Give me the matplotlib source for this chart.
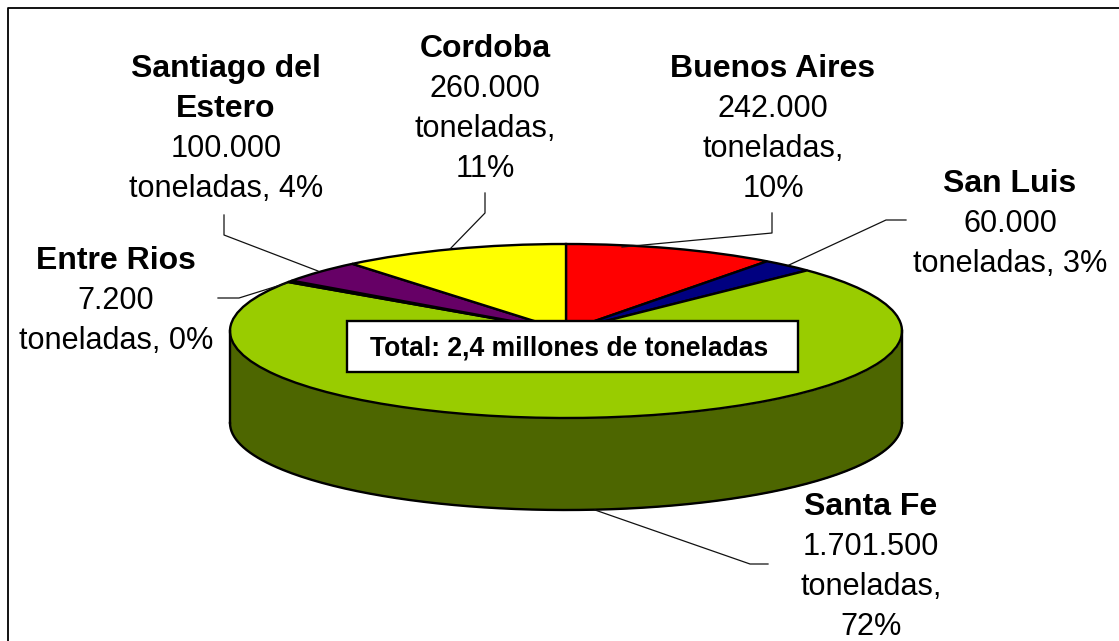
import matplotlib
matplotlib.use('Agg')
import matplotlib.pyplot as plt
import numpy as np

plt.rcParams['font.family'] = ['Liberation Sans', 'DejaVu Sans']

provinces = ['Buenos Aires', 'San Luis', 'Santa Fe', 'Entre Rios', 'Santiago del\nEstero', 'Cordoba']
tons = [242000, 60000, 1701500, 7200, 100000, 260000]
value_text = ['242.000\ntoneladas,\n10%', '60.000\ntoneladas, 3%', '1.701.500\ntoneladas,\n72%',
              '7.200\ntoneladas, 0%', '100.000\ntoneladas, 4%', '260.000\ntoneladas,\n11%']
colors = ['#ff0000', '#000080', '#99cc00', '#ccffff', '#660066', '#ffff00']
rim_color = '#4d6600'
total_text = 'Total: 2,4 millones de toneladas'

W, H = 1119, 641
fig = plt.figure(figsize=(W / 100, H / 100), dpi=100)

# overlay in pixel coords for frame, labels, leaders
over = fig.add_axes([0, 0, 1, 1], zorder=3)
over.set_xlim(0, W)
over.set_ylim(H, 0)
over.axis('off')

# pie axes: squashed ellipse, center (566,331), rx 336, ry 87
cx, cy, rx, ry, depth = 566, 331, 336, 87, 92
ax = fig.add_axes([(cx - rx) / W, 1 - (cy + ry) / H, 2 * rx / W, 2 * ry / H], zorder=1)
t = np.linspace(np.pi, 2 * np.pi, 200)
d = depth / ry
ax.fill_between(np.cos(t), np.sin(t), np.sin(t) - d, color=rim_color, lw=0, clip_on=False)
ax.plot(np.cos(t), np.sin(t) - d, color='k', lw=1.7, clip_on=False)
ax.plot([-1, -1], [0, -d], color='k', lw=1.7, clip_on=False)
ax.plot([1, 1], [0, -d], color='k', lw=1.7, clip_on=False)
ax.pie(tons, colors=colors, startangle=90, counterclock=False, radius=1,
       wedgeprops={'edgecolor': 'k', 'linewidth': 1.7, 'clip_on': False})
ax.set_aspect('auto')
ax.set_xlim(-1, 1)
ax.set_ylim(-1, 1)
ax.axis('off')

# frame, open at the bottom and right
over.plot([8, 8, W], [H, 8, 8], color='k', lw=1.3, clip_on=False)

# leader lines
leaders = [[(622, 247), (772, 233), (772, 213)],
           [(789, 265), (886, 220), (906, 220)],
           [(595, 510), (750, 564), (768, 564)],
           [(287, 283), (239, 298), (218, 298)],
           [(318, 271), (224, 235), (224, 215)],
           [(450, 249), (485, 213), (485, 193)]]
for pts in leaders:
    xs, ys = zip(*pts)
    over.plot(xs, ys, color='#111111', lw=0.9)

# label centre x and baseline of the first line
label_pos = [(773, 77), (1010, 192), (871, 515), (116, 269), (226, 77), (485, 57)]
line_h = 40
for name, val, (x, y) in zip(provinces, value_text, label_pos):
    rows = name.split('\n')
    for i, line in enumerate(rows):
        over.text(x, y + i * line_h, line, ha='center', va='baseline', fontsize=23, fontweight='bold')
    for i, line in enumerate(val.split('\n')):
        over.text(x, y + (len(rows) + i) * line_h, line, ha='center', va='baseline', fontsize=22.1)

over.fill([347, 798, 798, 347], [321, 321, 372, 372], facecolor='w', edgecolor='k', lw=1.7, zorder=1)
over.text(569, 348, total_text, ha='center', va='center', fontsize=19.1, fontweight='bold')

fig.savefig('out.png', dpi=100)
